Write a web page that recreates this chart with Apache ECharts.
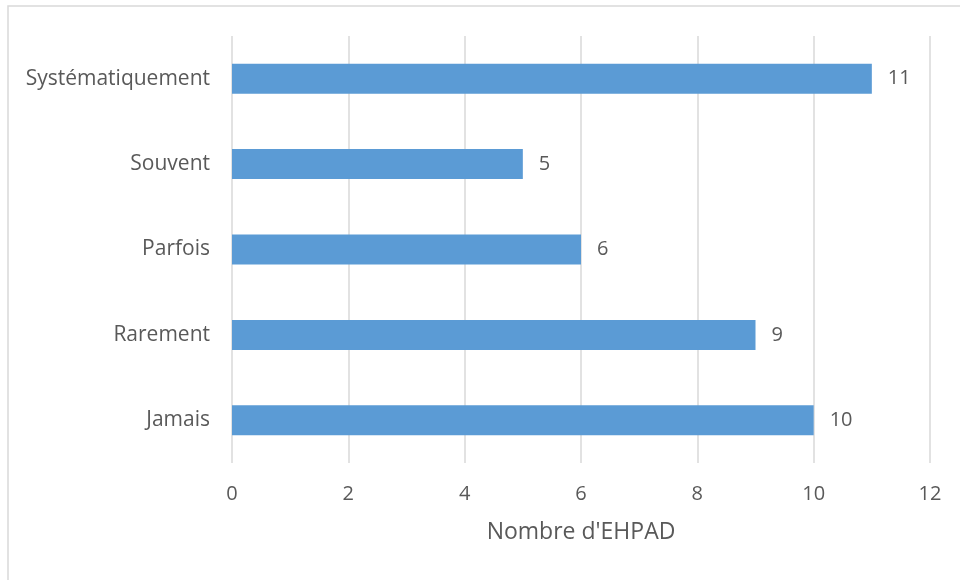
<!DOCTYPE html>
<html>
<head>
<meta charset="utf-8">
<style>
  html, body { margin: 0; padding: 0; background: #fff; }
  #chart { width: 960px; height: 580px; }
</style>
<script src="https://cdn.jsdelivr.net/npm/echarts@6/dist/echarts.min.js"></script>
</head>
<body>
<div id="chart"></div>
<script>
// Frequency categories, bottom to top as drawn on the vertical axis
const categories = ['Jamais', 'Rarement', 'Parfois', 'Souvent', 'Systématiquement'];
// Number of EHPAD per category
const counts = [10, 9, 6, 5, 11];
// Horizontal axis ticks
const xMin = 0, xMax = 12, xStep = 2;
const xTitle = "Nombre d'EHPAD";

const textColor = '#595959';
const font = 'Open Sans';

const chart = echarts.init(document.getElementById('chart'), null, { renderer: 'canvas' });
chart.setOption({
  backgroundColor: '#ffffff',
  animation: false,
  graphic: [{
    type: 'rect',
    shape: { x: 8, y: 6, width: 1000, height: 700 },
    style: { fill: 'none', stroke: '#d9d9d9', lineWidth: 1.5 },
    silent: true
  }],
  grid: { left: 232, right: 30, top: 36, bottom: 117, containLabel: false },
  xAxis: {
    type: 'value',
    min: xMin, max: xMax, interval: xStep,
    name: xTitle,
    nameLocation: 'middle',
    nameGap: 58,
    nameTextStyle: { color: textColor, fontSize: 23, fontFamily: font },
    axisLine: { show: false },
    axisTick: { show: false },
    axisLabel: { color: textColor, fontSize: 20, fontFamily: font, margin: 21 },
    splitLine: { show: true, lineStyle: { color: '#d9d9d9', width: 1.5 } }
  },
  yAxis: {
    type: 'category',
    data: categories,
    axisLine: { show: false },
    axisTick: { show: false },
    axisLabel: { color: textColor, fontSize: 21, fontFamily: font, margin: 22 }
  },
  series: [{
    type: 'bar',
    data: counts,
    barWidth: 30,
    itemStyle: { color: '#5b9bd5' },
    label: {
      show: true,
      position: 'right',
      distance: 16,
      color: textColor,
      fontSize: 20,
      fontFamily: font
    }
  }]
});
</script>
</body>
</html>
